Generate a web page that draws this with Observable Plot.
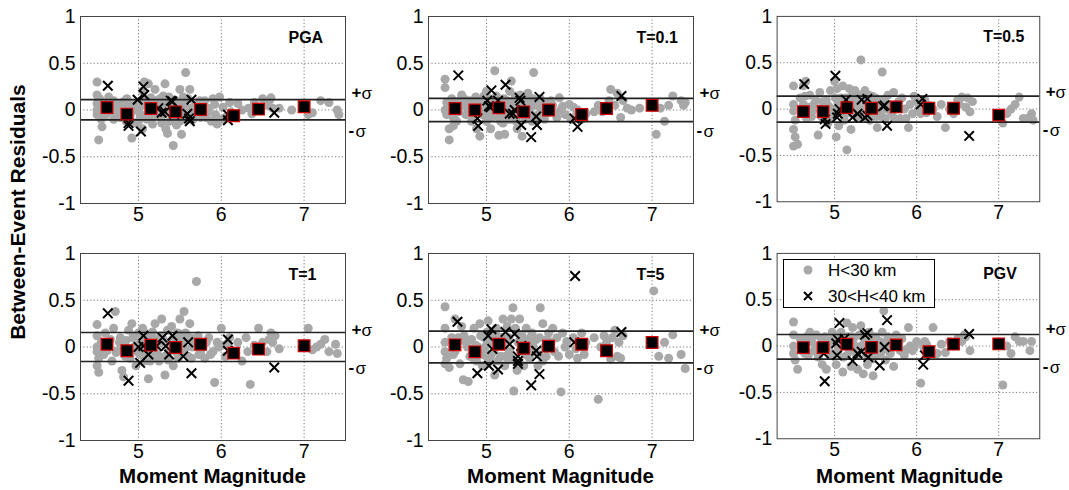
<!DOCTYPE html>
<html><head><meta charset="utf-8">
<script src="https://cdn.jsdelivr.net/npm/d3@7"></script>
<script src="https://cdn.jsdelivr.net/npm/@observablehq/plot@0.6"></script>
<style>
body{margin:0;background:#fff;font-family:"Liberation Sans",Arial,sans-serif;}
#wrap{position:relative;width:1069px;height:490px;overflow:hidden;background:#fff;}
.panel{position:absolute;}
.panel svg{overflow:visible;background:transparent;}
#legend{position:absolute;left:783px;top:259px;width:150px;height:47px;border:1px solid #000;background:#fff;}
#overlay{position:absolute;left:0;top:0;pointer-events:none;}
</style></head><body><div id="wrap"></div>
<script>
// ---------- data ----------
const panelNames = ["PGA", "T=0.1", "T=0.5", "T=1", "T=5", "PGV"];
const sigmaUp   = [0.11, 0.125, 0.14, 0.155, 0.17, 0.125];
const sigmaDown = [-0.105, -0.125, -0.14, -0.155, -0.17, -0.14];
const xTicks = [5, 6, 7];
const yTicks = [-1, -0.5, 0, 0.5, 1];
const gridYValues = [-0.5, 0, 0.5];
const legendLabels = ["H<30 km", "30<H<40 km"];
const binMag = [4.62, 4.86, 5.15, 5.45, 5.75, 6.15, 6.45, 7.0];

const pgaMeans = [0.027, -0.044, 0.016, -0.02, 0.005, -0.062, 0.009, 0.034];
const t01Means = [0.016, 0.0, 0.023, -0.02, 0.0, -0.048, 0.016, 0.05];
const t05Means = [-0.027, -0.027, 0.016, 0.009, 0.023, 0.009, 0.009, -0.065];
const t1Means  = [0.03, -0.04, 0.02, -0.005, 0.03, -0.066, -0.023, 0.013];
const t5Means  = [0.023, -0.052, 0.03, -0.013, 0.009, 0.03, -0.04, 0.048];
const pgvMeans = [-0.016, -0.016, 0.02, -0.013, 0.013, -0.06, 0.02, 0.023];

// [magnitude, residual] for H<30 km events
const pgaShallow = [[4.5,0.3],[4.5,0.16],[4.5,0.07],[4.5,0.0],[4.5,-0.05],[4.52,-0.32],[4.56,-0.18],[4.55,-0.1],[4.53,0.12],[4.58,0.04],[4.6,-0.06],
[4.7,0.1],[4.72,-0.02],[4.75,0.05],[4.78,-0.08],[4.8,0.08],[4.82,0.0],[4.85,-0.12],[4.88,0.06],[4.9,-0.06],[4.92,-0.3],[4.95,0.03],[4.97,-0.14],
[5.0,0.08],[5.02,-0.05],[5.05,0.2],[5.07,0.3],[5.09,0.05],[5.1,-0.1],[5.12,0.28],[5.13,-0.02],[5.15,0.13],[5.17,-0.15],[5.05,-0.2],[5.0,-0.12],
[5.2,0.22],[5.22,0.1],[5.25,0.0],[5.27,-0.08],[5.3,0.15],[5.32,0.28],[5.33,-0.2],[5.35,-0.25],[5.36,0.05],[5.38,-0.12],[5.4,0.02],[5.42,-0.38],[5.44,0.1],[5.45,-0.06],
[5.5,0.22],[5.52,-0.26],[5.55,0.05],[5.57,0.4],[5.58,-0.1],[5.6,0.12],[5.62,0.22],[5.65,-0.05],[5.68,0.05],[5.7,-0.02],[5.5,-0.12],
[5.8,0.1],[5.82,-0.08],[5.85,0.02],[5.88,-0.12],[5.9,0.12],[5.93,-0.05],[5.95,-0.15],[5.98,0.14],[6.0,-0.1],[6.02,0.03],
[6.12,-0.02],[6.2,0.07],[6.25,0.0],[6.33,0.02],[6.37,-0.04],[6.4,0.08],
[6.5,0.12],[6.55,0.05],[6.58,0.1],[6.6,0.13],[6.62,0.02],[6.7,0.02],
[6.85,0.0],[7.05,-0.05],[7.1,-0.03],[7.2,0.1],[7.3,0.08],[7.4,0.0],[7.42,-0.05],
[4.62,0.08],[4.65,-0.02],[4.68,0.04],[4.76,0.0],[4.84,0.1],[4.93,0.06],[4.98,0.0],[5.03,0.1],[5.06,-0.06],[5.11,0.06],[5.14,-0.08],[5.19,0.02],[5.21,-0.05],[5.24,0.08],[5.29,0.04],[5.31,-0.04],[5.34,0.1],[5.39,-0.02],[5.43,0.06],[5.47,0.03],[5.53,0.08],[5.56,-0.04],[5.63,0.02],[5.66,-0.1],[5.72,0.04],[5.75,-0.08],[5.78,0.0],
[4.64,0.14],[4.7,-0.1],[4.86,0.12],[4.91,-0.02],[5.01,0.02],[5.08,0.12],[5.16,0.04],[5.26,0.12],[5.28,-0.14],[5.37,0.14],[5.41,-0.1],[5.46,-0.16],[5.54,0.14],[5.59,0.0],[5.74,0.1],[5.84,-0.02],[5.92,0.06],[6.05,-0.08],[6.1,0.08]];

const t01Shallow = [[4.5,0.33],[4.5,0.24],[4.52,0.08],[4.5,0.0],[4.52,-0.05],[4.55,-0.2],[4.55,-0.32],[4.6,-0.17],[4.58,0.12],[4.6,-0.08],[4.7,0.16],[4.72,0.05],[4.75,-0.05],[4.8,0.1],[4.82,-0.12],[4.85,0.04],[4.88,-0.2],[4.9,0.1],[4.92,-0.28],[4.95,-0.05],[4.97,0.15],
[5.0,0.2],[5.0,-0.12],[5.02,0.05],[5.05,-0.2],[5.08,0.0],[5.1,0.42],[5.12,0.15],[5.15,-0.08],[5.15,-0.27],[5.18,0.05],[5.2,-0.14],[5.22,-0.26],[5.25,0.1],[5.28,0.2],[5.3,0.31],[5.3,-0.1],[5.33,0.05],[5.35,0.15],[5.37,-0.2],[5.4,0.03],[5.43,-0.28],[5.45,0.1],[5.47,-0.1],
[5.5,0.18],[5.52,0.0],[5.55,-0.12],[5.57,0.4],[5.6,0.05],[5.62,-0.05],[5.65,0.12],[5.7,-0.1],[5.72,0.08],[5.75,-0.03],[5.8,0.05],[5.85,-0.08],[5.88,0.13],[5.9,0.0],[5.95,-0.05],[6.0,0.06],[6.02,-0.1],[6.05,0.03],[6.1,0.0],[6.15,-0.1],[6.2,-0.04],
[6.3,-0.02],[6.35,0.05],[6.4,-0.02],[6.48,0.1],[6.5,0.22],[6.55,0.05],[6.58,0.18],[6.62,-0.08],[6.65,0.1],[6.7,0.02],[6.75,0.0],[6.85,0.02],[7.02,0.03],[7.05,-0.26],[7.1,0.02],[7.15,-0.12],[7.2,0.05],[7.25,0.15],[7.35,0.1],[7.38,0.05],[7.4,0.08],
[4.62,0.06],[4.66,-0.02],[4.68,0.1],[4.77,0.02],[4.84,-0.04],[4.93,0.08],[4.98,-0.02],[5.04,0.12],[5.06,-0.08],[5.11,0.02],[5.14,0.08],[5.19,-0.04],[5.23,0.04],[5.27,-0.1],[5.32,0.1],[5.38,-0.06],[5.42,0.06],[5.48,0.02],[5.53,0.08],[5.58,-0.1],[5.64,0.04],[5.68,-0.02],[5.78,0.1],[5.83,-0.03],
[4.64,-0.12],[4.73,0.12],[4.87,0.14],[4.96,0.04],[5.01,-0.06],[5.09,0.08],[5.17,-0.12],[5.21,0.12],[5.26,-0.02],[5.36,-0.12],[5.41,0.16],[5.46,-0.04],[5.51,-0.06],[5.56,0.12],[5.63,-0.1],[5.71,0.02],[5.92,0.04],[6.08,-0.06]];

const t05Shallow = [[4.5,0.25],[4.5,0.05],[4.5,-0.02],[4.52,-0.12],[4.5,-0.22],[4.52,-0.3],[4.5,-0.4],[4.55,-0.38],[4.58,0.12],[4.6,-0.05],[4.62,0.25],[4.65,0.3],[4.7,0.15],[4.72,-0.08],[4.75,0.05],[4.8,-0.28],[4.82,0.18],[4.85,0.08],[4.88,-0.04],[4.9,0.1],[4.92,-0.15],[4.95,0.2],[4.97,0.0],
[5.0,0.3],[5.02,-0.3],[5.03,0.22],[5.05,-0.18],[5.08,0.12],[5.1,0.25],[5.12,-0.12],[5.15,-0.44],[5.15,0.05],[5.18,0.22],[5.2,-0.22],[5.22,0.1],[5.25,0.2],[5.28,-0.1],[5.3,0.15],[5.32,0.53],[5.35,0.0],[5.37,0.2],[5.4,-0.1],[5.42,0.15],[5.45,0.05],[5.47,-0.05],
[5.5,0.12],[5.52,-0.2],[5.55,0.0],[5.58,0.4],[5.6,0.1],[5.62,-0.1],[5.65,0.15],[5.7,-0.05],[5.72,0.18],[5.75,0.05],[5.8,-0.1],[5.82,0.12],[5.85,0.0],[5.9,-0.2],[5.92,0.05],[5.95,-0.05],[6.0,0.08],[6.02,0.0],[6.05,-0.05],[6.1,0.1],[6.15,0.04],[6.2,0.0],[6.25,-0.08],
[6.3,0.05],[6.35,-0.2],[6.4,0.0],[6.45,-0.05],[6.5,0.1],[6.52,0.05],[6.55,0.13],[6.6,0.02],[6.62,0.12],[6.65,-0.03],[6.68,0.08],[7.02,-0.1],[7.05,-0.15],[7.1,-0.05],[7.15,0.0],[7.2,0.05],[7.25,0.13],[7.3,-0.1],[7.35,-0.1],[7.4,-0.05],[7.42,-0.12],
[4.62,0.05],[4.66,-0.1],[4.68,0.02],[4.77,0.1],[4.84,-0.08],[4.93,0.03],[4.98,-0.08],[5.04,0.08],[5.06,-0.02],[5.11,-0.06],[5.14,0.12],[5.19,0.02],[5.23,-0.06],[5.27,0.06],[5.32,-0.03],[5.38,0.06],[5.43,-0.12],[5.48,0.1],[5.53,0.03],[5.57,-0.08],[5.64,0.06],[5.68,-0.02],[5.78,0.08],[5.87,-0.1],
[4.64,0.14],[4.73,-0.02],[4.86,0.02],[4.96,-0.1],[5.01,0.12],[5.09,0.04],[5.17,-0.04],[5.21,0.14],[5.26,0.0],[5.36,0.12],[5.41,0.02],[5.46,0.14],[5.51,-0.08],[5.56,0.08],[5.63,0.0],[5.73,-0.1],[5.97,0.14],[6.12,-0.04]];

const t1Shallow = [[4.5,0.24],[4.5,0.12],[4.5,0.0],[4.5,-0.05],[4.52,-0.12],[4.5,-0.2],[4.52,-0.27],[4.55,0.05],[4.58,-0.08],[4.6,0.15],[4.7,0.2],[4.72,0.38],[4.75,-0.04],[4.78,0.1],[4.8,-0.25],[4.82,-0.32],[4.85,0.07],[4.88,0.18],[4.9,-0.12],[4.92,0.25],[4.95,0.0],[4.97,-0.2],
[5.0,0.15],[5.02,-0.08],[5.05,0.2],[5.07,-0.15],[5.1,0.05],[5.12,-0.34],[5.15,0.1],[5.17,-0.1],[5.2,0.25],[5.22,0.02],[5.25,-0.15],[5.28,0.3],[5.3,0.08],[5.32,-0.3],[5.35,0.18],[5.37,-0.05],[5.4,0.22],[5.42,-0.2],[5.45,0.1],[5.48,-0.12],
[5.5,0.3],[5.52,0.05],[5.55,0.38],[5.57,0.15],[5.6,-0.1],[5.62,0.25],[5.65,0.0],[5.7,0.7],[5.72,0.12],[5.75,-0.05],[5.8,-0.12],[5.82,0.05],[5.85,0.1],[5.9,-0.05],[5.92,-0.38],[5.95,0.05],[6.0,0.2],[6.02,0.02],[6.05,-0.1],[6.1,0.1],[6.15,-0.05],[6.2,0.05],[6.25,-0.15],
[6.3,0.1],[6.32,-0.05],[6.35,-0.4],[6.4,0.02],[6.45,0.2],[6.5,0.05],[6.55,-0.05],[6.58,0.08],[6.6,0.15],[6.62,0.05],[6.65,0.12],[6.7,-0.02],[7.05,0.2],[7.1,-0.03],[7.15,0.0],[7.2,0.03],[7.25,0.08],[7.3,-0.05],[7.38,0.03],[7.4,-0.07],
[4.62,-0.04],[4.66,0.08],[4.68,-0.15],[4.77,0.05],[4.84,-0.1],[4.93,0.1],[4.98,-0.05],[5.04,0.06],[5.06,-0.04],[5.11,0.14],[5.14,-0.15],[5.19,0.08],[5.23,-0.08],[5.27,0.12],[5.32,-0.1],[5.38,0.05],[5.43,0.0],[5.47,0.15],[5.53,-0.05],[5.58,0.1],[5.64,-0.12],[5.68,0.05],[5.78,0.0],[5.87,-0.08],
[4.64,0.02],[4.73,-0.06],[4.87,-0.02],[4.96,0.12],[5.01,0.04],[5.09,-0.06],[5.17,0.16],[5.21,-0.12],[5.26,0.04],[5.36,-0.14],[5.41,0.08],[5.46,-0.06],[5.51,0.14],[5.56,-0.02],[5.63,0.1],[5.73,-0.08],[5.97,0.0],[6.08,0.04]];

const t5Shallow = [[4.5,0.43],[4.5,0.2],[4.5,0.05],[4.5,-0.05],[4.52,-0.12],[4.5,-0.18],[4.55,-0.22],[4.58,0.1],[4.6,-0.08],[4.62,0.3],[4.7,0.22],[4.72,-0.35],[4.75,0.05],[4.78,-0.37],[4.8,-0.1],[4.82,0.08],[4.85,0.2],[4.88,-0.15],[4.9,0.0],[4.92,0.25],[4.95,-0.2],[4.97,0.1],
[5.0,0.02],[5.0,-0.1],[5.02,0.28],[5.05,-0.15],[5.08,0.1],[5.1,-0.3],[5.12,0.2],[5.15,0.05],[5.17,-0.1],[5.2,0.3],[5.22,-0.2],[5.25,0.22],[5.28,-0.05],[5.3,0.3],[5.32,0.42],[5.33,-0.47],[5.35,0.2],[5.37,-0.25],[5.4,0.3],[5.42,0.1],[5.45,-0.2],[5.48,0.2],
[5.5,0.05],[5.52,-0.12],[5.55,0.15],[5.6,0.08],[5.62,-0.2],[5.65,0.42],[5.68,0.25],[5.7,0.0],[5.72,-0.1],[5.75,0.15],[5.8,0.2],[5.82,-0.05],[5.85,0.1],[5.9,-0.48],[5.92,0.15],[5.95,0.0],[6.0,-0.08],[6.05,0.1],[6.1,-0.12],[6.15,0.15],[6.18,-0.08],[6.2,0.05],
[6.3,0.1],[6.35,-0.56],[6.38,0.0],[6.42,0.12],[6.45,0.05],[6.5,-0.13],[6.52,0.1],[6.55,0.18],[6.58,-0.1],[6.6,0.05],[6.62,-0.12],[6.65,0.12],[7.02,0.6],[7.08,-0.1],[7.15,0.05],[7.2,-0.12],[7.25,0.13],[7.35,-0.08],[7.4,-0.23],
[4.62,-0.05],[4.66,0.1],[4.68,-0.18],[4.77,0.0],[4.84,-0.12],[4.93,0.12],[4.98,-0.05],[5.04,0.05],[5.06,-0.08],[5.11,0.15],[5.14,-0.15],[5.19,0.1],[5.23,-0.1],[5.27,0.1],[5.32,-0.12],[5.38,0.05],[5.43,0.12],[5.47,-0.08],[5.53,0.1],[5.58,-0.05],[5.64,0.1],[5.68,-0.15],[5.78,0.05],[5.87,-0.1],
[4.64,0.05],[4.73,0.12],[4.87,0.02],[4.96,-0.08],[5.01,0.16],[5.09,-0.04],[5.17,0.1],[5.21,0.02],[5.26,-0.14],[5.36,0.16],[5.41,-0.04],[5.46,0.06],[5.51,-0.02],[5.56,0.02],[5.63,-0.08],[5.73,0.08],[5.97,0.06],[6.08,-0.02]];

const pgvShallow = [[4.5,0.26],[4.5,0.12],[4.5,0.0],[4.5,-0.08],[4.52,-0.15],[4.55,-0.25],[4.58,0.08],[4.6,-0.05],[4.7,0.15],[4.72,0.05],[4.75,-0.05],[4.78,0.12],[4.8,-0.12],[4.82,0.0],[4.85,-0.2],[4.88,0.1],[4.9,-0.25],[4.92,0.02],[4.95,-0.1],[4.97,0.15],
[5.0,0.1],[5.02,-0.2],[5.05,0.0],[5.08,0.15],[5.1,-0.28],[5.12,0.05],[5.15,-0.1],[5.15,0.25],[5.18,0.1],[5.2,-0.22],[5.22,0.2],[5.25,0.0],[5.28,-0.25],[5.3,0.12],[5.32,0.22],[5.35,-0.3],[5.37,0.05],[5.4,-0.2],[5.42,0.15],[5.45,-0.05],[5.47,-0.32],
[5.5,0.1],[5.52,-0.1],[5.55,0.05],[5.58,0.15],[5.6,0.38],[5.62,-0.15],[5.65,0.1],[5.7,0.0],[5.72,-0.22],[5.75,0.12],[5.8,-0.05],[5.82,0.08],[5.85,-0.1],[5.9,0.2],[5.92,0.0],[5.95,-0.05],[6.0,0.05],[6.05,-0.4],[6.08,0.0],[6.1,0.05],[6.15,-0.03],[6.2,0.2],[6.25,-0.08],
[6.3,0.02],[6.35,-0.07],[6.4,0.05],[6.45,0.0],[6.5,0.08],[6.55,0.05],[6.58,0.12],[6.6,0.1],[6.65,-0.05],[7.05,-0.42],[7.1,0.0],[7.15,-0.08],[7.2,0.1],[7.25,0.05],[7.3,0.05],[7.4,0.05],[7.38,-0.05],
[4.62,0.02],[4.66,0.1],[4.68,-0.1],[4.77,0.0],[4.84,0.08],[4.93,-0.05],[4.98,0.05],[5.04,-0.05],[5.06,0.12],[5.11,-0.12],[5.14,0.1],[5.19,-0.05],[5.23,0.08],[5.27,-0.1],[5.32,0.0],[5.38,-0.08],[5.43,0.05],[5.47,0.1],[5.53,-0.02],[5.58,-0.05],[5.64,0.05],[5.68,-0.08],[5.78,0.03],[5.87,-0.04],
[4.64,-0.08],[4.73,0.1],[4.87,0.04],[4.96,0.06],[5.01,-0.08],[5.09,0.06],[5.17,-0.02],[5.21,0.1],[5.26,-0.06],[5.36,0.14],[5.41,0.06],[5.46,-0.14],[5.51,0.02],[5.56,-0.08],[5.63,0.02],[5.73,0.06],[5.97,-0.02],[6.12,0.02]];

// [magnitude, residual] for 30<H<40 km events
const pgaDeep = [[4.63,0.26],[4.99,0.11],[5.06,0.25],[5.07,0.16],[4.88,-0.14],[4.88,-0.17],[5.03,-0.23],[5.24,0.02],[5.28,-0.03],[5.32,-0.02],[5.39,0.1],[5.41,0.09],[5.43,-0.04],[5.59,-0.04],[5.61,-0.09],[5.62,-0.12],[5.64,0.11],[6.08,-0.05],[6.08,-0.11],[6.64,-0.03]];
const t01Deep = [[4.66,0.37],[5.06,0.21],[5.01,0.1],[5.03,0.04],[5.05,0.03],[5.14,0.1],[5.23,0.27],[5.28,-0.04],[5.32,-0.04],[5.34,0.0],[5.4,0.13],[5.41,0.1],[5.42,-0.16],[5.64,0.14],[5.6,-0.07],[5.61,-0.16],[5.54,-0.29],[4.89,-0.09],[4.9,-0.17],[6.06,-0.09],[6.1,-0.18],[6.63,0.15]];
const t05Deep = [[4.63,0.27],[5.01,0.36],[4.88,-0.11],[4.89,-0.16],[5.04,-0.05],[5.06,0.0],[5.03,-0.09],[5.14,0.1],[5.22,-0.09],[5.28,-0.05],[5.33,0.1],[5.4,0.11],[5.37,-0.09],[5.4,-0.07],[5.59,0.03],[5.61,0.04],[5.64,-0.18],[6.07,0.11],[6.05,0.05],[6.64,-0.29]];
const t1Deep = [[4.63,0.36],[4.88,-0.36],[4.85,-0.05],[5.0,0.0],[5.02,-0.17],[5.06,0.12],[5.06,0.01],[5.12,-0.08],[5.22,0.01],[5.29,0.1],[5.33,0.01],[5.37,-0.08],[5.41,0.12],[5.54,-0.1],[5.6,0.05],[5.64,-0.28],[6.08,0.08],[6.08,-0.04],[6.64,-0.22]];
const t5Deep = [[4.65,0.27],[4.89,-0.28],[5.02,0.12],[5.06,0.19],[5.07,-0.02],[5.03,-0.2],[5.14,-0.24],[5.23,0.16],[5.28,0.03],[5.34,0.14],[5.38,-0.1],[5.38,-0.15],[5.38,-0.18],[5.42,0.01],[5.6,-0.04],[5.61,-0.1],[5.54,-0.41],[5.64,-0.29],[6.07,0.76],[6.06,0.05],[6.63,0.16]];
const pgvDeep = [[4.88,-0.38],[4.87,-0.08],[5.06,0.25],[5.02,0.03],[5.04,0.07],[5.03,-0.1],[5.12,0.08],[5.22,-0.16],[5.28,-0.08],[5.33,-0.06],[5.37,0.12],[5.4,0.14],[5.41,-0.12],[5.55,-0.21],[5.61,-0.01],[5.64,0.28],[6.08,-0.2],[6.1,-0.1],[6.64,0.13]];

const shallowSets = [pgaShallow, t01Shallow, t05Shallow, t1Shallow, t5Shallow, pgvShallow];
const deepSets = [pgaDeep, t01Deep, t05Deep, t1Deep, t5Deep, pgvDeep];
const meanSets = [pgaMeans, t01Means, t05Means, t1Means, t5Means, pgvMeans];

// ---------- layout ----------
const colLeft = [80, 428, 777];
const rowTop = [16, 253];
const FW = 265, FH = 187;
const ML = 45, MR = 30, MT = 10, MB = 30;
const FONT = "Liberation Sans, Arial, Helvetica, sans-serif";
const GRAY = "#a8a8a8";

const wrap = document.getElementById("wrap");

panelNames.forEach((name, i) => {
  const col = i % 3, row = Math.floor(i / 3);
  const means = binMag.map((m, k) => ({m, r: meanSets[i][k]}));
  const chart = Plot.plot({
    width: ML + FW + MR,
    height: MT + FH + MB,
    marginLeft: ML, marginRight: MR, marginTop: MT, marginBottom: MB,
    style: {fontFamily: FONT, fontSize: "19.5px", background: "transparent", color: "#000", overflow: "visible"},
    x: {domain: [4.3, 7.5], ticks: xTicks, tickSize: 0, tickPadding: 4, label: null, tickFormat: d => String(d)},
    y: {domain: [-1, 1], ticks: yTicks, tickSize: 0, tickPadding: 5, label: null, tickFormat: d => String(d)},
    marks: [
      Plot.ruleX(xTicks, {stroke: "#777", strokeDasharray: "1.2,2.2", strokeWidth: 1}),
      Plot.ruleY(gridYValues, {stroke: "#777", strokeDasharray: "1.2,2.2", strokeWidth: 1}),
      Plot.dot(shallowSets[i], {x: d => d[0], y: d => d[1], r: 4.5, fill: GRAY, stroke: "none"}),
      Plot.ruleY([sigmaUp[i], sigmaDown[i]], {stroke: "#222", strokeWidth: 1.7}),
      Plot.dot(deepSets[i], {x: d => d[0], y: d => d[1], symbol: "times", r: 4.4, stroke: "#000", strokeWidth: 2}),
      Plot.dot(means, {x: "m", y: "r", symbol: "square", r: 6.6, fill: "#000", stroke: "#d40000", strokeWidth: 1.2}),
      Plot.frame({stroke: "#444", strokeWidth: 1}),
      Plot.text([name], {frameAnchor: "top-left", dx: 208, dy: 21, textAnchor: "start", lineAnchor: "middle", fontWeight: "bold", fontSize: 16, fill: "#000"}),
      Plot.text(["+"], {frameAnchor: "right", y: [0.19], dx: 6, textAnchor: "start", lineAnchor: "middle", fontWeight: "bold", fontSize: 17, fill: "#000"}),
      Plot.text(["σ"], {frameAnchor: "right", y: [0.18], dx: 16, textAnchor: "start", lineAnchor: "middle", fontSize: 17, fill: "#000"}),
      Plot.text(["-"], {frameAnchor: "right", y: [-0.22], dx: 3, textAnchor: "start", lineAnchor: "middle", fontWeight: "bold", fontSize: 17, fill: "#000"}),
      Plot.text(["σ"], {frameAnchor: "right", y: [-0.23], dx: 10, textAnchor: "start", lineAnchor: "middle", fontSize: 17, fill: "#000"})
    ]
  });
  const div = document.createElement("div");
  div.className = "panel";
  div.style.left = (colLeft[col] - ML) + "px";
  div.style.top = (rowTop[row] - MT) + "px";
  div.appendChild(chart);
  wrap.appendChild(div);
});

// axis titles
const ns = "http://www.w3.org/2000/svg";
const ov = document.createElementNS(ns, "svg");
ov.setAttribute("id", "overlay");
ov.setAttribute("width", 1069); ov.setAttribute("height", 490);
function addText(parent, txt, attrs) {
  const t = document.createElementNS(ns, "text");
  for (const k in attrs) t.setAttribute(k, attrs[k]);
  t.textContent = txt;
  parent.appendChild(t);
  return t;
}
addText(ov, "Between-Event Residuals", {transform: "translate(25,212) rotate(-90)", "text-anchor": "middle", "font-weight": "bold", "font-size": 21, "font-family": FONT});
colLeft.forEach(l => addText(ov, "Moment Magnitude", {x: l + FW / 2, y: 483, "text-anchor": "middle", "font-weight": "bold", "font-size": 20.5, "font-family": FONT}));
wrap.appendChild(ov);

// legend (PGV panel)
const leg = document.createElement("div");
leg.id = "legend";
const ls = document.createElementNS(ns, "svg");
ls.setAttribute("width", 150); ls.setAttribute("height", 47);
const c = document.createElementNS(ns, "circle");
c.setAttribute("cx", 24); c.setAttribute("cy", 10); c.setAttribute("r", 4.5); c.setAttribute("fill", GRAY);
ls.appendChild(c);
const x = document.createElementNS(ns, "path");
x.setAttribute("d", "M20,32L28,40M20,40L28,32"); x.setAttribute("stroke", "#000"); x.setAttribute("stroke-width", 2);
ls.appendChild(x);
addText(ls, legendLabels[0], {x: 44, y: 16, "font-size": 17, "font-family": FONT});
addText(ls, legendLabels[1], {x: 44, y: 42, "font-size": 17, "font-family": FONT});
leg.appendChild(ls);
wrap.appendChild(leg);
</script></body></html>
